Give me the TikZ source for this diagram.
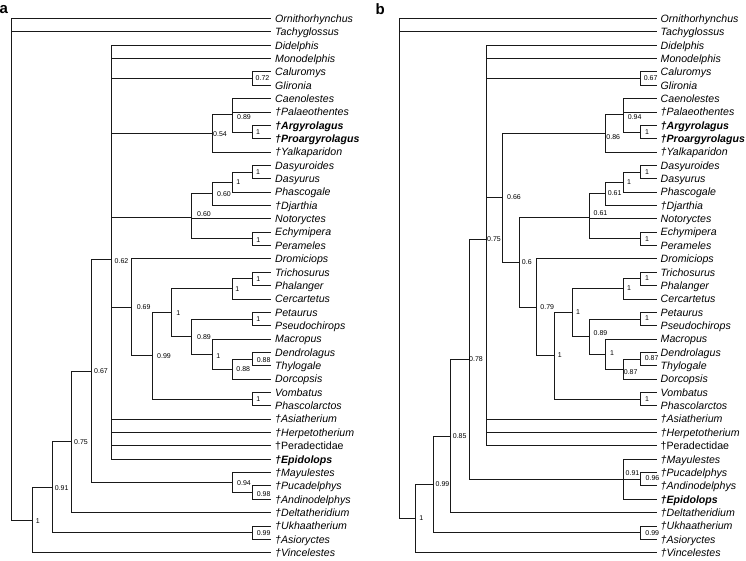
\documentclass[tikz,border=0pt]{standalone}
\usepackage{fontspec}
\setmainfont{Liberation Sans}
\newcommand\mkclade[2]{\foreach \c in {#2}{\draw[br] (#1) |- (\c);}}
\begin{document}
\begin{tikzpicture}[x=1pt,y=-1pt,
  br/.style={line width=0.9pt, draw=black!90, line join=miter},
  taxon/.style={font=\fontsize{10.6}{12}\selectfont\itshape, inner sep=0pt, anchor=base west},
  sup/.style={font=\fontsize{7}{8}\selectfont, inner sep=0pt},
  panel/.style={font=\fontsize{15}{17}\selectfont\bfseries, inner sep=0pt, anchor=base west}]
\useasboundingbox (0,0) rectangle (746,560);
\node[panel] (pa) at (-0.5,13.8) {a};
\node[panel] (pb) at (375.3,14.5) {b};

% ---------- leaves, tree a ----------
\foreach \n/\t [count=\i from 0] in {
 aOrn/Ornithorhynchus, aTach/Tachyglossus, aDid/Didelphis, aMono/Monodelphis,
 aCalu/Caluromys, aGlir/Glironia, aCaen/Caenolestes, aPala/†Palaeothentes,
 aArgy/{\bfseries †Argyrolagus}, aProa/{\bfseries †Proargyrolagus}, aYalk/†Yalkaparidon,
 aDasy/Dasyuroides, aDasu/Dasyurus, aPhas/Phascogale, aDjar/†Djarthia,
 aNoto/Notoryctes, aEchy/Echymipera, aPrml/Perameles, aDrom/Dromiciops,
 aTric/Trichosurus, aPhal/Phalanger, aCerc/Cercartetus, aPeta/Petaurus,
 aPseu/Pseudochirops, aMacr/Macropus, aDend/Dendrolagus, aThyl/Thylogale,
 aDorc/Dorcopsis, aVomb/Vombatus, aPhco/Phascolarctos, aAsia/†Asiatherium,
 aHerp/†Herpetotherium, aPrdc/{\upshape †Peradectidae}, aEpid/{\bfseries †Epidolops},
 aMay/†Mayulestes, aPuca/†Pucadelphys, aAndi/†Andinodelphys, aDelt/†Deltatheridium,
 aUkh/†Ukhaatherium, aAsio/†Asioryctes, aVinc/†Vincelestes}{
  \coordinate (\n) at (271,{18.5+13.355*\i});
  \node[taxon] (\n L) at ([xshift=4pt,yshift=-3.8pt]\n) {\t};
}

% ---------- leaves, tree b ----------
\foreach \n/\t [count=\i from 0] in {
 bOrn/Ornithorhynchus, bTach/Tachyglossus, bDid/Didelphis, bMono/Monodelphis,
 bCalu/Caluromys, bGlir/Glironia, bCaen/Caenolestes, bPala/†Palaeothentes,
 bArgy/{\bfseries †Argyrolagus}, bProa/{\bfseries †Proargyrolagus}, bYalk/†Yalkaparidon,
 bDasy/Dasyuroides, bDasu/Dasyurus, bPhas/Phascogale, bDjar/†Djarthia,
 bNoto/Notoryctes, bEchy/Echymipera, bPrml/Perameles, bDrom/Dromiciops,
 bTric/Trichosurus, bPhal/Phalanger, bCerc/Cercartetus, bPeta/Petaurus,
 bPseu/Pseudochirops, bMacr/Macropus, bDend/Dendrolagus, bThyl/Thylogale,
 bDorc/Dorcopsis, bVomb/Vombatus, bPhco/Phascolarctos, bAsia/†Asiatherium,
 bHerp/†Herpetotherium, bPrdc/{\upshape †Peradectidae},
 bMay/†Mayulestes, bPuca/†Pucadelphys, bAndi/†Andinodelphys, bEpid/{\bfseries †Epidolops},
 bDelt/†Deltatheridium, bUkh/†Ukhaatherium, bAsio/†Asioryctes, bVinc/†Vincelestes}{
  \coordinate (\n) at (656.5,{18.5+13.355*\i});
  \node[taxon] (\n L) at ([xshift=4pt,yshift=-3.8pt]\n) {\t};
}

% ---------- internal nodes, tree a ----------
\foreach \n/\x/\y in {
 aR/11.7/270, aN1/32/520, aN091/52/487.3, aN099/252.3/532.65, aN075/71.7/441.9,
 aN067/91.7/371.1, aN094/232.3/482.6, aN098/252.3/492.6, aN062/111.7/259.67,
 aN072/252.3/78.6, aN054/212.3/133.15, aN089/232.3/114.2, aNarg/252.3/132.0,
 aN060b/191.7/217.15, aN060a/212.3/193.8, aN1d2/232.3/182.1, aNdas/252.3/172.1,
 aNper/252.3/238.85, aN069/131.7/307.4, aN099b/152/355.9, aN1big/171.7/312.7,
 aN1pha/232.3/288.9, aNtri/252.3/278.9, aN089b/191.7/336.5, aNpet/252.3/319.0,
 aN1mac/212.3/354.05, aN088a/232.3/369.1, aN088b/252.3/359.05, aNvom/252.3/399.1}
 {\coordinate (\n) at (\x,\y);}

% ---------- internal nodes, tree b ----------
\foreach \n/\x/\y in {
 bR/399/270, bN1/415.7/518.5, bN099/433/484.3, bNukh/640.7/532.65, bN085/450.7/436.0,
 bN078/469/359.4, bN091/623/479.25, bN096/640.7/479.25, bN075/486.3/239.6,
 bNcal/640.7/78.6, bN066/502.3/197.7, bN086/605.3/133.15, bN094/623/114.2,
 bNarg/640.7/132.0, bN06/519.7/262.3, bN061b/589/217.15, bN061a/605.3/193.8,
 bN1d2/623/182.1, bNdas/640.7/172.1, bNper/640.7/238.85, bN079/536.3/307.4,
 bN1c/554.7/355.9, bN1d/572/312.7, bN1pha/623/288.9, bNtri/640.7/278.9,
 bN089b/589/336.5, bNpet/640.7/319.0, bN1mac/605.3/354.05, bN087a/623/369.1,
 bN087b/640.7/359.05, bNvom/640.7/399.1}
 {\coordinate (\n) at (\x,\y);}

% ---------- branches, tree a ----------
\mkclade{aR}{aOrn,aTach,aN1}
\mkclade{aN1}{aN091,aVinc}
\mkclade{aN091}{aN075,aN099}
\mkclade{aN099}{aUkh,aAsio}
\mkclade{aN075}{aN067,aDelt}
\mkclade{aN067}{aN062,aN094}
\mkclade{aN094}{aMay,aN098}
\mkclade{aN098}{aPuca,aAndi}
\mkclade{aN062}{aDid,aMono,aN072,aN054,aN060b,aN069,aAsia,aHerp,aPrdc,aEpid}
\mkclade{aN072}{aCalu,aGlir}
\mkclade{aN054}{aN089,aYalk}
\mkclade{aN089}{aCaen,aPala,aNarg}
\mkclade{aNarg}{aArgy,aProa}
\mkclade{aN060b}{aN060a,aNoto,aNper}
\mkclade{aN060a}{aN1d2,aDjar}
\mkclade{aN1d2}{aNdas,aPhas}
\mkclade{aNdas}{aDasy,aDasu}
\mkclade{aNper}{aEchy,aPrml}
\mkclade{aN069}{aDrom,aN099b}
\mkclade{aN099b}{aN1big,aNvom}
\mkclade{aN1big}{aN1pha,aN089b}
\mkclade{aN1pha}{aNtri,aCerc}
\mkclade{aNtri}{aTric,aPhal}
\mkclade{aN089b}{aNpet,aN1mac}
\mkclade{aNpet}{aPeta,aPseu}
\mkclade{aN1mac}{aMacr,aN088a}
\mkclade{aN088a}{aN088b,aDorc}
\mkclade{aN088b}{aDend,aThyl}
\mkclade{aNvom}{aVomb,aPhco}

% ---------- branches, tree b ----------
\mkclade{bR}{bOrn,bTach,bN1}
\mkclade{bN1}{bN099,bVinc}
\mkclade{bN099}{bN085,bNukh}
\mkclade{bNukh}{bUkh,bAsio}
\mkclade{bN085}{bN078,bDelt}
\mkclade{bN078}{bN075,bN091}
\mkclade{bN091}{bMay,bN096,bEpid}
\mkclade{bN096}{bPuca,bAndi}
\mkclade{bN075}{bDid,bMono,bNcal,bN066,bAsia,bHerp,bPrdc}
\mkclade{bNcal}{bCalu,bGlir}
\mkclade{bN066}{bN086,bN06}
\mkclade{bN086}{bN094,bYalk}
\mkclade{bN094}{bCaen,bPala,bNarg}
\mkclade{bNarg}{bArgy,bProa}
\mkclade{bN06}{bN061b,bN079}
\mkclade{bN061b}{bN061a,bNoto,bNper}
\mkclade{bN061a}{bN1d2,bDjar}
\mkclade{bN1d2}{bNdas,bPhas}
\mkclade{bNdas}{bDasy,bDasu}
\mkclade{bNper}{bEchy,bPrml}
\mkclade{bN079}{bDrom,bN1c}
\mkclade{bN1c}{bN1d,bNvom}
\mkclade{bN1d}{bN1pha,bN089b}
\mkclade{bN1pha}{bNtri,bCerc}
\mkclade{bNtri}{bTric,bPhal}
\mkclade{bN089b}{bNpet,bN1mac}
\mkclade{bNpet}{bPeta,bPseu}
\mkclade{bN1mac}{bMacr,bN087a}
\mkclade{bN087a}{bN087b,bDorc}
\mkclade{bN087b}{bDend,bThyl}
\mkclade{bNvom}{bVomb,bPhco}

% ---------- support values, tree a ----------
\foreach \n/\x/\y/\v in {
 aN072/262.5/78.3/0.72, aN089/244/117/0.89, aN054/220/134.5/0.54, aNarg/258/132.3/1,
 aNdas/258/172.3/1, aN1d2/238.3/181.7/1, aN060a/224/194.3/0.60, aN060b/204/214.3/0.60,
 aNper/258.3/240/1, aN062/121.5/260.7/0.62, aNtri/258.3/279.3/1, aN1pha/237.3/289.3/1,
 aN069/143.7/307.3/0.69, aN1big/178.3/313.3/1, aNpet/258.3/319.3/1, aN089b/204/336.7/0.89,
 aN1mac/218.3/355.7/1, aN099b/164/356/0.99, aN088b/263.7/360/0.88, aN088a/243.3/369/0.88,
 aN067/101/371/0.67, aNvom/258.3/399.3/1, aN075/81/441.7/0.75, aN094/244/483.3/0.94,
 aN098/263.7/494/0.98, aN091/61.7/488.3/0.91, aN1/37.7/520.7/1, aN099/263.7/533.3/0.99}
 {\node[sup] (\n s) at (\x,\y) {\v};}

% ---------- support values, tree b ----------
\foreach \n/\x/\y/\v in {
 bNcal/650.7/77.7/0.67, bN094/634.7/116.7/0.94, bN086/613.3/136.7/0.86, bNarg/647/131.7/1,
 bNdas/647/171.7/1, bN1d2/629/181.7/1, bN061a/614.7/193.3/0.61, bN066/514/196.7/0.66,
 bN061b/600.5/213.3/0.61, bN075/494/239.3/0.75, bNper/647/239.3/1, bN06/526.8/261.7/0.6,
 bNtri/647/278.3/1, bN1pha/629/288.3/1, bN079/547.3/306.7/0.79, bN1d/578/311.7/1,
 bNpet/647/318.3/1, bN089b/600.5/333.3/0.89, bN1mac/612/353.3/1, bN1c/559.7/355/1,
 bN087b/651.7/358.3/0.87, bN078/476/359/0.78, bN087a/630.7/371.7/0.87, bNvom/647/399.3/1,
 bN085/459.7/435.7/0.85, bN091/632.5/473.3/0.91, bN096/652.5/478.3/0.96,
 bN099/442.5/484/0.99, bN1/421.3/517.7/1, bNukh/652.3/533.3/0.99}
 {\node[sup] (\n s) at (\x,\y) {\v};}
\end{tikzpicture}
\end{document}
